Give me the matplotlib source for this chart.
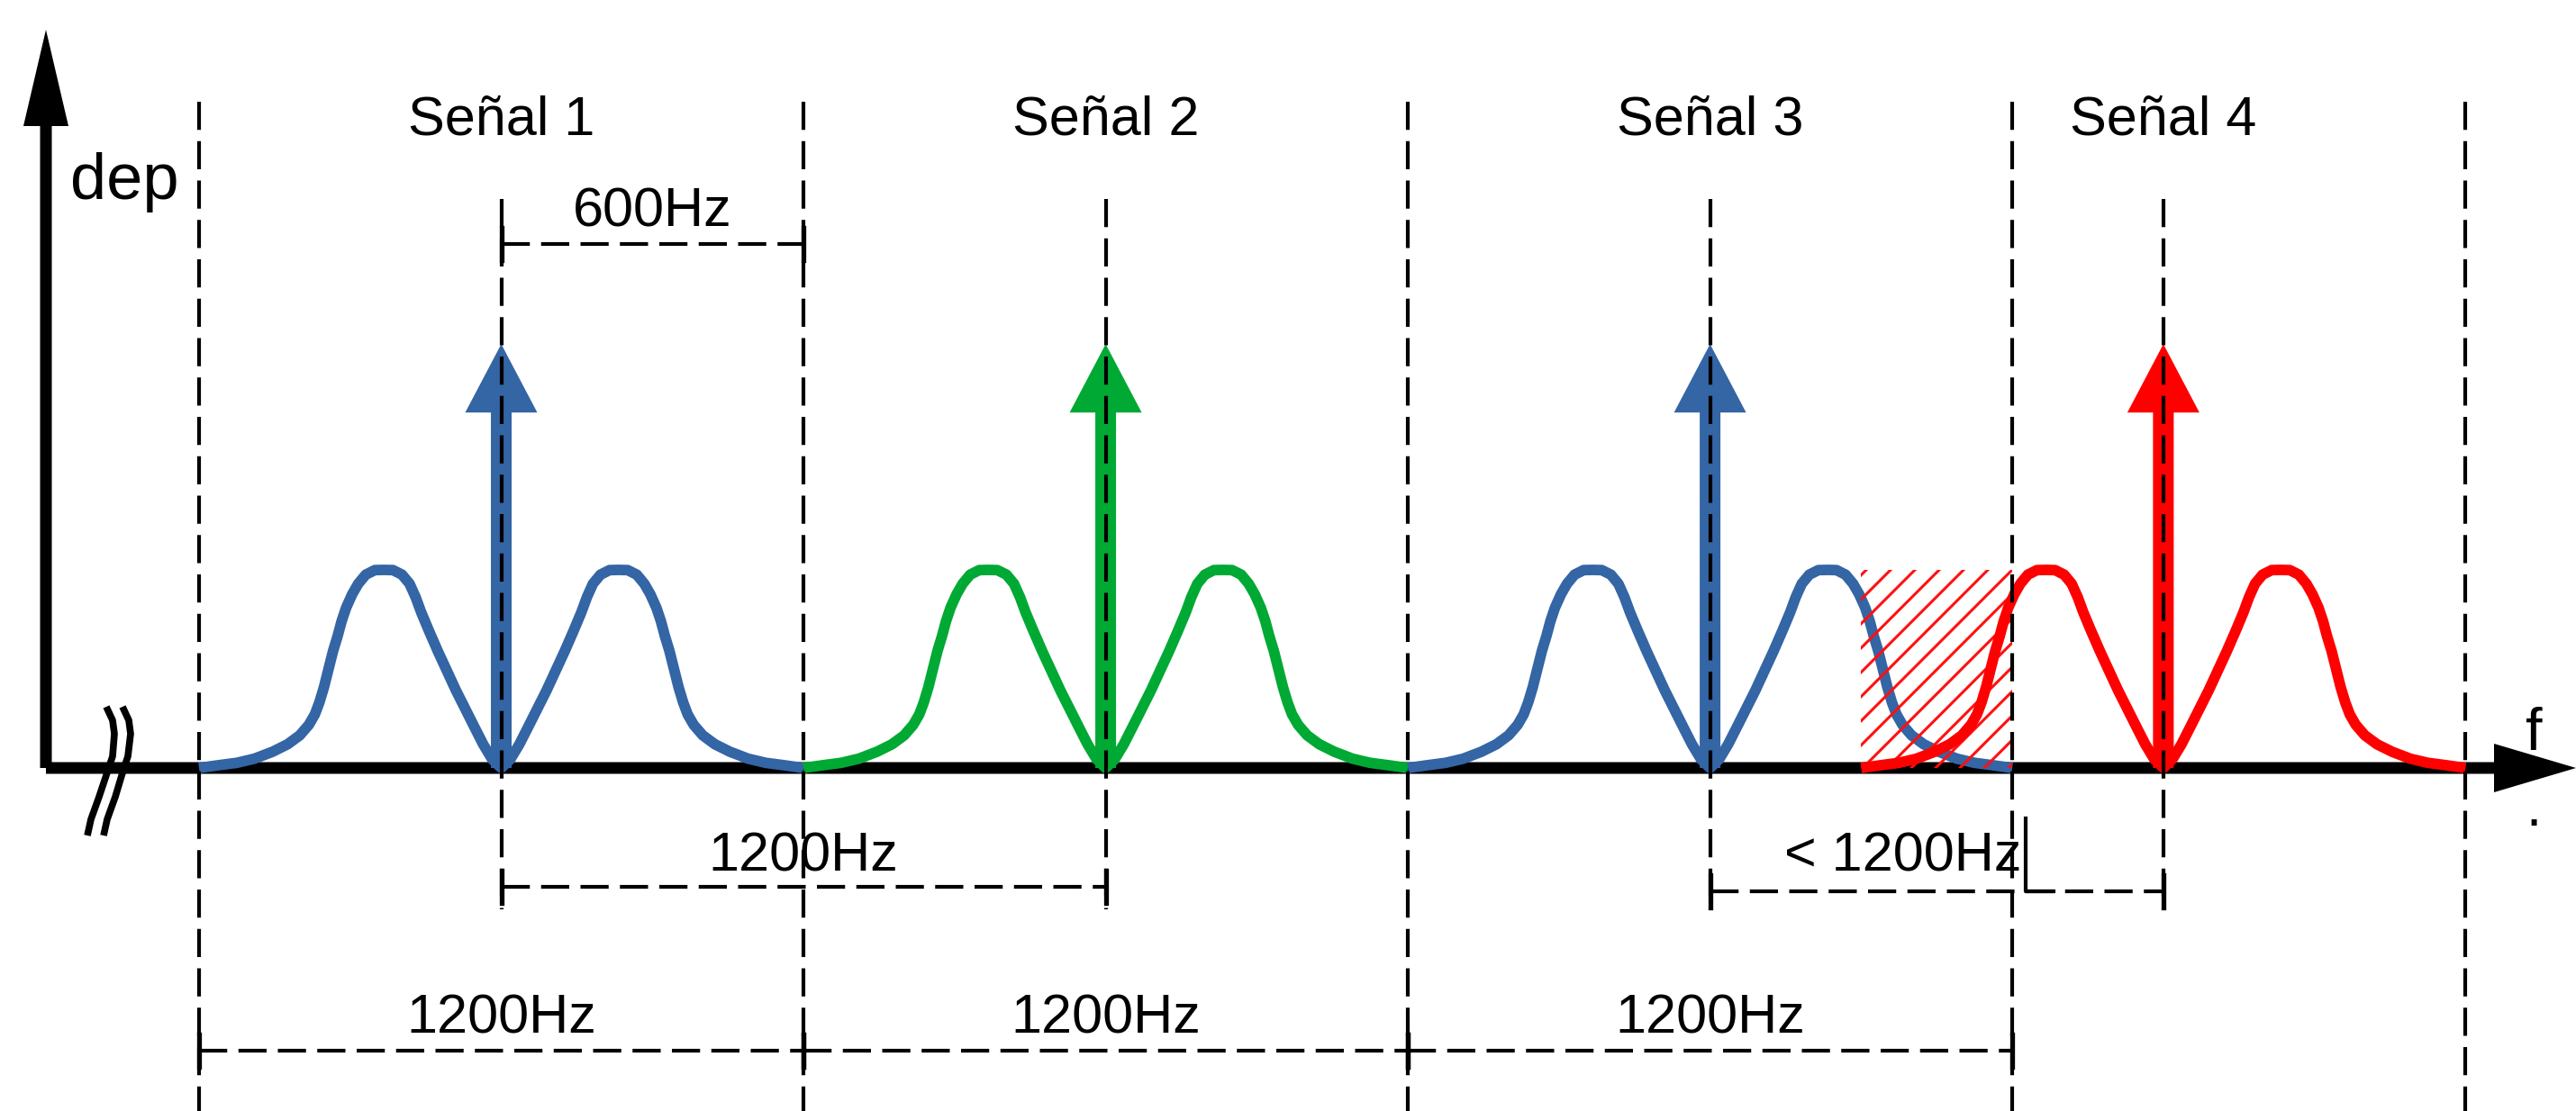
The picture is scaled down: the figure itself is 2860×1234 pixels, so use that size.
import matplotlib
matplotlib.use("Agg")
import matplotlib.pyplot as plt
from matplotlib.patches import Rectangle

plt.rcParams['font.family'] = ['Liberation Sans', 'DejaVu Sans']

# --- data (frequencies in Hz, heights relative to side lobe peak) ---
signal_names = ['Señal 1', 'Señal 2', 'Señal 3', 'Señal 4']
signal_centers = [600, 1800, 3000, 3900]
signal_colors = ['#3465a4', '#00a933', '#3465a4', '#ff0000']
channel_edges = [0, 1200, 2400, 3600, 4500]
carrier_height = 2.14
# one side lobe: offset from carrier (Hz) -> height
lobe_offsets = [0, 18, 36, 54, 72, 90, 108, 126, 144, 159, 170, 182, 197, 215, 233,
                251, 269, 284, 296, 308, 317, 325, 334, 343, 352, 361, 370, 382,
                400, 424, 454, 490, 525, 561, 600]
lobe_heights = [0, 0.044, 0.12, 0.21, 0.301, 0.392, 0.491, 0.59, 0.695, 0.786, 0.862,
                0.93, 0.976, 0.999, 1.0, 0.999, 0.976, 0.93, 0.877, 0.809, 0.741,
                0.665, 0.59, 0.499, 0.408, 0.332, 0.271, 0.218, 0.165, 0.12, 0.082,
                0.047, 0.026, 0.014, 0.0]
overlap_band = [3300, 3600]
dim_top = ('600Hz', 600, 1200)
dim_mid = ('1200Hz', 600, 1800)
dim_mid2 = ('< 1200Hz', 3000, 3900)
dim_bottom = [('1200Hz', 0, 1200), ('1200Hz', 1200, 2400), ('1200Hz', 2400, 3600)]

# pixel -> data helpers (layout only)
PX_HZ = 0.5592
PX_U = 220.0
def ux(px):
    return (px - 221) / PX_HZ
def uy(py):
    return (853 - py) / PX_U

fig = plt.figure(figsize=(28.6, 12.34), dpi=100)
ax = fig.add_axes([0, 0, 1, 1])
ax.set_xlim(ux(0), ux(2860))
ax.set_ylim(uy(1234), uy(0))
ax.axis('off')

# axes arrows
ax.arrow(ux(51), 0, ux(2860) - ux(51), 0, width=13 / PX_U, head_width=54 / PX_U,
         head_length=91 / PX_HZ, length_includes_head=True, color='black', lw=0, zorder=1)
ax.arrow(ux(51), 0, 0, uy(33), width=13 / PX_HZ, head_width=50 / PX_HZ,
         head_length=107 / PX_U, length_includes_head=True, color='black', lw=0, zorder=1)

# axis break marks
brk_a = [(118, 785), (125, 800), (127, 815), (125, 840), (120, 855), (110, 885), (101, 910), (97, 928)]
brk_b = [(136, 785), (143, 800), (145, 815), (142, 840), (137, 855), (128, 885), (119, 910), (115, 928)]
for brk in (brk_a, brk_b):
    ax.plot([ux(p[0]) for p in brk], [uy(p[1]) for p in brk], color='black', lw=5.5,
            solid_capstyle='butt', zorder=2)

# spectra
xs = [-o for o in lobe_offsets[::-1]] + lobe_offsets[1:]
ys = lobe_heights[::-1] + lobe_heights[1:]
for i, (c, col) in enumerate(zip(signal_centers, signal_colors)):
    z = 3.5 if i == 3 else 2.5
    ax.plot([c + x for x in xs], ys, color=col, lw=8.5, solid_joinstyle='round',
            solid_capstyle='butt', zorder=z)
    ax.arrow(c, 0, 0, carrier_height, width=23 / PX_HZ, head_width=80 / PX_HZ,
             head_length=76 / PX_U, length_includes_head=True, color=col, lw=0, zorder=3.6)

# hatched overlap region
clip = Rectangle((overlap_band[0], 0), overlap_band[1] - overlap_band[0], 1.0,
                 fill=False, lw=0, transform=ax.transData)
ax.add_patch(clip)
step = 27
for k in range(-10, 20):
    x0 = 2068 + k * step
    line, = ax.plot([ux(x0), ux(x0 + 260)], [uy(853), uy(853 - 260)], color='#ff1010',
                    lw=2.2, zorder=3)
    line.set_clip_path(clip)

# dashed guide lines
dash = (0, (7.5, 3.0))
for e in channel_edges:
    ax.plot([e, e], [uy(113), uy(1234)], color='black', lw=3.0, ls=dash, zorder=5)
for c in signal_centers:
    ax.plot([c, c], [uy(221), uy(1010)], color='black', lw=3.0, ls=dash, zorder=5)

def dimension(label, a, b, py, ty, tx=None):
    ax.plot([a, b], [uy(py), uy(py)], color='black', lw=3.0, ls=dash, zorder=5)
    for x in (a, b):
        ax.plot([x, x], [uy(py - 18), uy(py + 18)], color='black', lw=3.8, zorder=5)
    if tx is None:
        tx = (a + b) / 2
    ax.text(tx, uy(ty), label, fontsize=44, ha='center', va='baseline', zorder=6)

dimension(dim_top[0], dim_top[1], dim_top[2], 271, 252)
dimension(dim_mid[0], dim_mid[1], dim_mid[2], 985, 967)
dimension(dim_mid2[0], dim_mid2[1], dim_mid2[2], 990, 967, tx=ux(2113))
for lab, a, b in dim_bottom:
    dimension(lab, a, b, 1167, 1147)
# small corner mark next to "< 1200Hz"
ax.plot([ux(2249), ux(2249), ux(2280)], [uy(909), uy(990), uy(990)], color='black',
        lw=3.0, zorder=5)

# labels
for name, c in zip(signal_names, signal_centers):
    ax.text(c, uy(150), name, fontsize=44, ha='center', va='baseline')
ax.text(ux(78), uy(221), 'dep', fontsize=52, ha='left', va='baseline')
ax.text(ux(2813), uy(833), 'f', fontsize=48, ha='center', va='baseline')
ax.text(ux(2813), uy(917), '.', fontsize=44, ha='center', va='baseline')

fig.savefig('out.png', dpi=100)
